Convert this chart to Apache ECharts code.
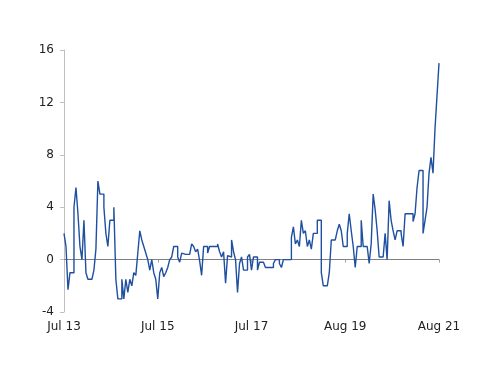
<!DOCTYPE html>
<html>
<head>
<meta charset="utf-8">
<script src="https://cdn.jsdelivr.net/npm/echarts@6/dist/echarts.min.js"></script>
<style>html,body{margin:0;padding:0;background:#fff}#c{width:500px;height:386px}</style>
</head>
<body>
<div id="c"></div>
<script>
const values = [
  2, 1, -2.3, -1, -1, 4, 5.5, 3.5, 1, 0,
  3, -1, -1.5, -1.5, -1.5, -0.8, 0.8, 6, 5, 5,
  4, 2, 1, 3, 3, 4, -1.5, -3, -3, -1.5,
  -3, -1.5, -2.5, -1.5, -2, -1, -1.2, 0.5, 2.2, 1.5,
  1, 0.5, 0, -0.8, 0, -1, -1.5, -3, -1, -0.6,
  -1.3, -1, -0.6, 0, 0.2, 1, 1, 0.2, -0.2, 0.5,
  0.4, 0.5, 0.4, 0.4, 1.2, 1, 0.6, 0.8, -0.1, -1.2,
  1, 1, 0.5, 1, 1, 1, 1, 1.2, 0.6, 0.2,
  0.6, -1.8, 0.3, 0.2, 1.5, 0.6, 0, -2.5, -0.3, 0.2,
  -0.8, -0.8, 0.2, 0.4, -0.8, 0.2, 0.2, -0.8, -0.2, -0.2,
  -0.2, -0.6, -0.6, -0.6, -0.6, -0.3, 0, 0, -0.3, -0.6,
  0, 0, 0, 0, 1.7, 2.5, 1.2, 1.5, 1, 3,
  2, 2.2, 1, 1.5, 0.8, 2, 2, 3, 3, -1,
  -2, -2, -2, -1, 1.5, 1.5, 1.5, 2.2, 2.7, 2.2,
  1, 1, 2, 3.5, 2.2, 1, -0.6, 1, 1, 3,
  1, 1, 1, -0.3, 1.2, 5, 3.8, 2.2, 0.2, 0.2,
  0.2, 2, 0, 4.5, 3, 2.2, 1.5, 2.2, 2.2, 2,
  1, 3.5, 3.5, 3.5, 3.5, 2.9, 3.5, 5.5, 6.8, 6.8,
  2, 3, 4, 6.6, 7.8, 6.6, 10, 12.5, 15
];
const categories = values.map((_, i) => String(i));
const xTickLabels = ['Jul 13', 'Jul 15', 'Jul 17', 'Aug 19', 'Aug 21'];
const xTickIndex = [0, 47, 94, 141, 188];
const yTicks = [-4, 0, 4, 8, 12, 16];

const labelOf = {};
xTickIndex.forEach((idx, k) => { labelOf[idx] = xTickLabels[k]; });
const isTick = (i) => labelOf[i] !== undefined;

const chart = echarts.init(document.getElementById('c'), null, { renderer: 'canvas' });
chart.setOption({
  animation: false,
  backgroundColor: '#ffffff',
  grid: { left: 64, right: 61, top: 50, bottom: 74, containLabel: false },
  xAxis: [
    {
      type: 'category',
      data: categories,
      boundaryGap: false,
      position: 'bottom',
      axisLine: { show: false, onZero: false },
      axisTick: { show: false },
      splitLine: { show: false },
      axisLabel: {
        interval: (i) => isTick(i),
        formatter: (v, i) => labelOf[i] || '',
        margin: 9,
        color: '#222222',
        fontFamily: 'DejaVu Sans',
        fontSize: 12
      }
    },
    {
      type: 'category',
      data: categories,
      boundaryGap: false,
      position: 'top',
      axisLine: { show: true, onZero: true, lineStyle: { color: '#808080', width: 1 } },
      axisTick: { show: true, inside: true, length: 3, interval: (i) => isTick(i) && i > 0, lineStyle: { color: '#a0a0a0' } },
      axisLabel: { show: false },
      splitLine: { show: false }
    }
  ],
  yAxis: {
    type: 'value',
    min: yTicks[0],
    max: yTicks[yTicks.length - 1],
    interval: 4,
    axisLine: { show: true, lineStyle: { color: '#c0c0c0', width: 1 } },
    axisTick: { show: true, length: 4, lineStyle: { color: '#c0c0c0' } },
    splitLine: { show: false },
    axisLabel: {
      margin: 10,
      color: '#222222',
      fontFamily: 'DejaVu Sans',
      fontSize: 12
    }
  },
  series: [{
    type: 'line',
    xAxisIndex: 0,
    data: values,
    step: 'end',
    symbol: 'none',
    lineStyle: { color: '#1f4fa0', width: 1.4 },
    z: 3
  }]
});
</script>
</body>
</html>
